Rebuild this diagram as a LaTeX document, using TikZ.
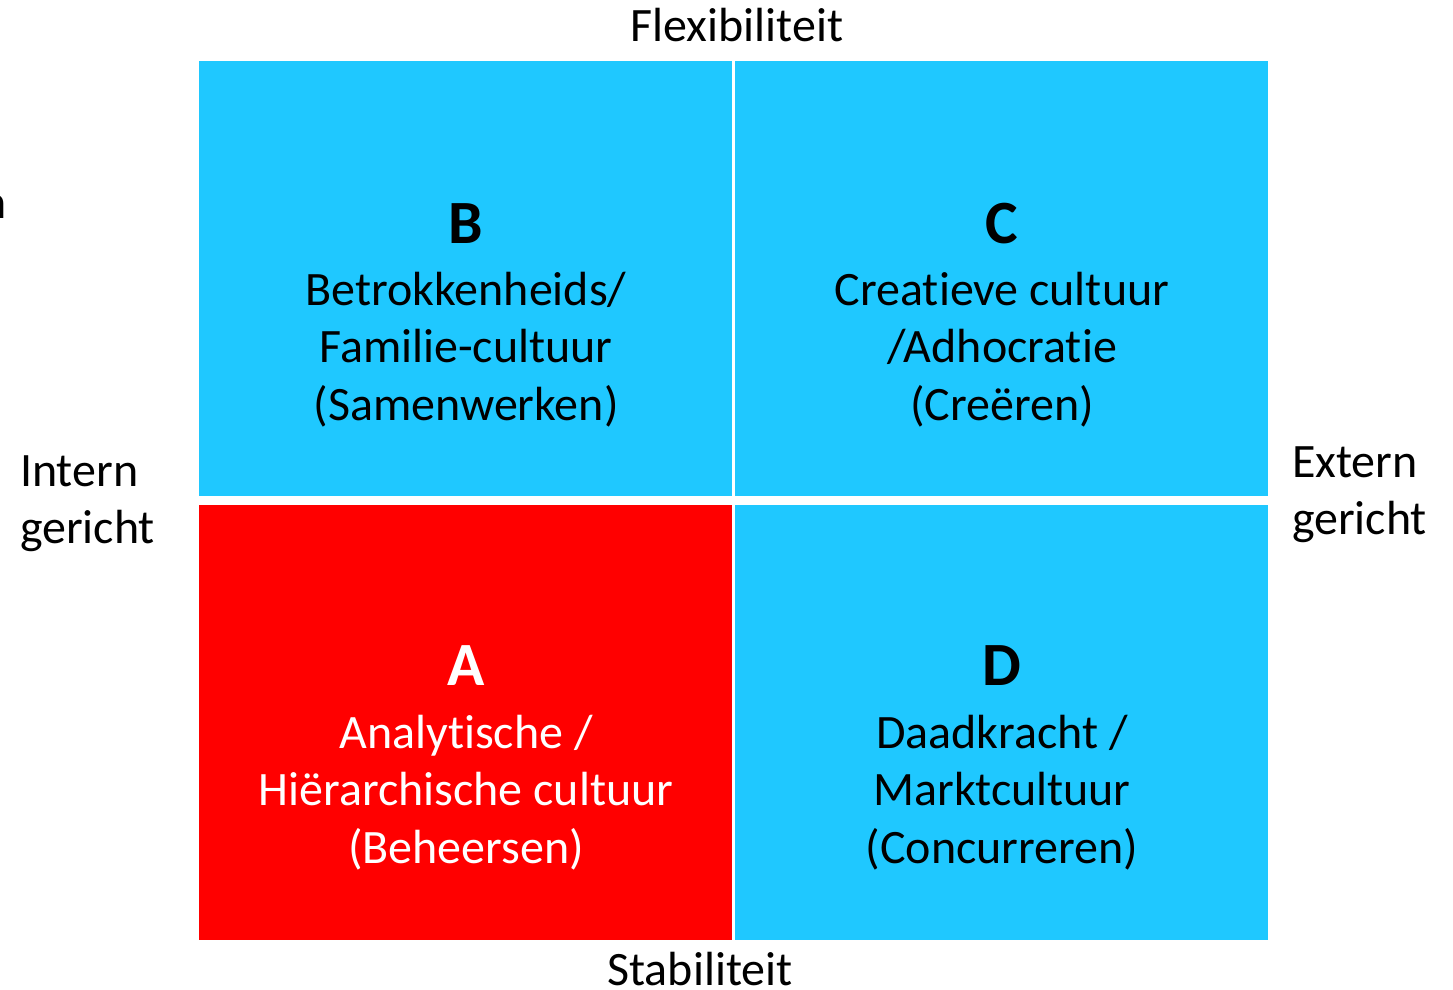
\documentclass[tikz,border=0pt]{standalone}
\usepackage{fontspec}
\setmainfont[Ligatures=NoCommon]{Carlito}
\usepackage{tikz}

\definecolor{quadblue}{RGB}{31,200,255}
\definecolor{quadred}{RGB}{255,0,0}

\begin{document}
\begin{tikzpicture}[x=0.02cm, y=-0.02cm, every node/.style={inner sep=0, outer sep=0}]
    \tikzstyle{quad} = [rectangle, minimum width=10.66cm, minimum height=8.7cm, fill=quadblue]
    \tikzstyle{letter} = [anchor=base, font=\fontsize{35}{40}\selectfont\bfseries]
    \tikzstyle{desc} = [anchor=base, align=center, font=\fontsize{27.3}{32.7}\selectfont]
    \tikzstyle{axis} = [anchor=base, align=left, font=\fontsize{27.3}{32.2}\selectfont]
    \useasboundingbox (0,0) rectangle (1453,990);

    % the four quadrants
    \node[quad] (B) at (465.5, 278.5) {};
    \node[quad] (C) at (1001.5, 278.5) {};
    \node[quad, fill=quadred] (A) at (465.5, 722.5) {};
    \node[quad] (D) at (1001.5, 722.5) {};

    \node[letter] (Bl) at (466, 243) {B};
    \node[letter] (Cl) at (1002, 243) {C};
    \node[letter, text=white] (Al) at (466, 685) {A};
    \node[letter] (Dl) at (1002, 685) {D};

    % base of a multi-line node is its last line
    \node[desc] (Bt) at (466, 420) {Betrokkenheids/\\Familie-cultuur\\(Samenwerken)};
    \node[desc] (Ct) at (1002, 420) {Creatieve cultuur\\/Adhocratie\\(Creëren)};
    \node[desc, text=white] (At) at (466, 863) {Analytische /\\Hiërarchische cultuur\\(Beheersen)};
    \node[desc] (Dt) at (1002, 863) {Daadkracht /\\Marktcultuur\\(Concurreren)};

    % axis labels
    \node[axis, anchor=base] (top) at (737, 42) {Flexibiliteit};
    \node[axis, anchor=base] (bottom) at (700, 985) {Stabiliteit};
    \node[axis, anchor=base west] (left) at (20, 543) {Intern\\gericht};
    \node[axis, anchor=base west] (right) at (1292, 534) {Extern\\gericht};
    \node[axis, anchor=base east] (cut) at (7, 218) {n};
\end{tikzpicture}
\end{document}
